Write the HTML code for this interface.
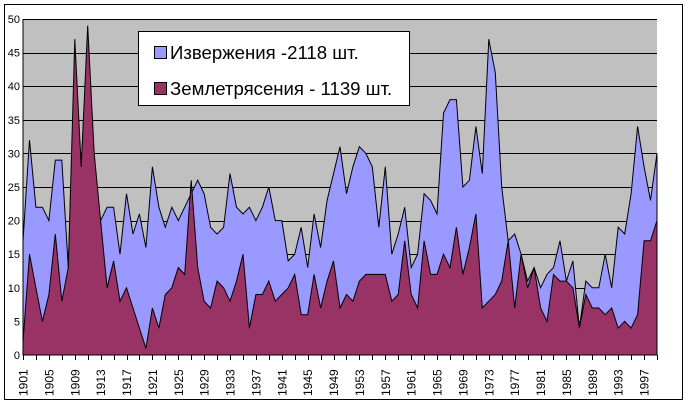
<!DOCTYPE html>
<html><head><meta charset="utf-8">
<style>
html,body{margin:0;padding:0;background:#fff;}
svg{display:block;font-family:"Liberation Sans",Arial,sans-serif;}
</style></head>
<body>
<svg id="c" width="690" height="405" xmlns="http://www.w3.org/2000/svg">
<rect x="4.5" y="4.5" width="678" height="395" fill="#fff" stroke="#000" stroke-width="1"/>
<rect x="23" y="19" width="634" height="336" fill="#c0c0c0"/>
<g id="grid"></g>
<g id="areas"></g>
<line x1="23" y1="19" x2="23" y2="355" stroke="#000"/>
<line x1="23" y1="355" x2="657" y2="355" stroke="#000"/>
<g id="yl" font-size="11" text-anchor="end"></g>
<g id="xl" font-size="12"></g>
<rect x="138.5" y="31.5" width="271" height="74" fill="#fff" stroke="#000"/>
<rect x="154.5" y="46.5" width="12" height="12" fill="#9999ff" stroke="#000"/>
<text x="170" y="59" font-size="18.6">Извержения -2118 шт.</text>
<rect x="154.5" y="82.5" width="12" height="12" fill="#993366" stroke="#000"/>
<text x="170" y="95" font-size="18.6">Землетрясения - 1139 шт.</text>
</svg>
<script>
var B=[17,32,22,22,20,29,29,13,43,28,47,20,20,22,22,15,24,18,21,16,28,22,19,22,20,22,24,26,24,19,18,19,27,22,21,22,20,22,25,20,20,14,15,19,13,21,16,23,27,31,24,28,31,30,28,19,28,15,18,22,13,15,24,23,21,36,38,38,25,26,34,27,47,42,25,17,18,15,11,13,10,12,13,17,11,14,4,11,10,10,15,10,19,18,24,34,28,23,30];
var P=[2,15,10,5,9,18,8,13,47,28,49,30,20,10,14,8,10,7,4,1,7,4,9,10,13,12,26,13,8,7,11,10,8,11,15,4,9,9,11,8,9,10,12,6,6,12,7,11,14,7,9,8,11,12,12,12,12,8,9,17,9,7,17,12,12,15,13,19,12,16,21,7,8,9,11,17,7,15,10,13,7,5,12,11,11,10,4,9,7,7,6,7,4,5,4,6,17,17,20];
var ns="http://www.w3.org/2000/svg";
function X(i){return 23+i*634/98;}
function Y(v){return 355-v*6.72;}
function el(t,a,p,txt){var e=document.createElementNS(ns,t);for(var k in a)e.setAttribute(k,a[k]);if(txt!=null)e.textContent=txt;document.getElementById(p).appendChild(e);}
for(var v=5;v<=50;v+=5){var y=Math.round(Y(v))+0.5;el("line",{x1:23,y1:y,x2:657,y2:y,stroke:"#000"},"grid");}
function poly(d,f){var s="23,355 ";for(var i=0;i<d.length;i++)s+=X(i).toFixed(1)+","+Y(d[i]).toFixed(1)+" ";s+="657,355";el("polygon",{points:s,fill:f,stroke:"#000","stroke-width":"1","stroke-linejoin":"miter"},"areas");}
poly(B,"#9999ff");poly(P,"#993366");
for(var v=0;v<=50;v+=5)el("text",{x:20,y:Y(v)+4},"yl",String(v));
for(var i=0;i<=98;i+=2){var x=Math.round(X(i))+0.5;el("line",{x1:x,y1:355,x2:x,y2:360,stroke:"#000"},"xl");}
for(var i=0;i<=96;i+=4){var x=X(i)+4.5;el("text",{x:x,y:396,transform:"rotate(-90 "+x+" 396)"},"xl",String(1901+i));}
</script>
</body></html>
